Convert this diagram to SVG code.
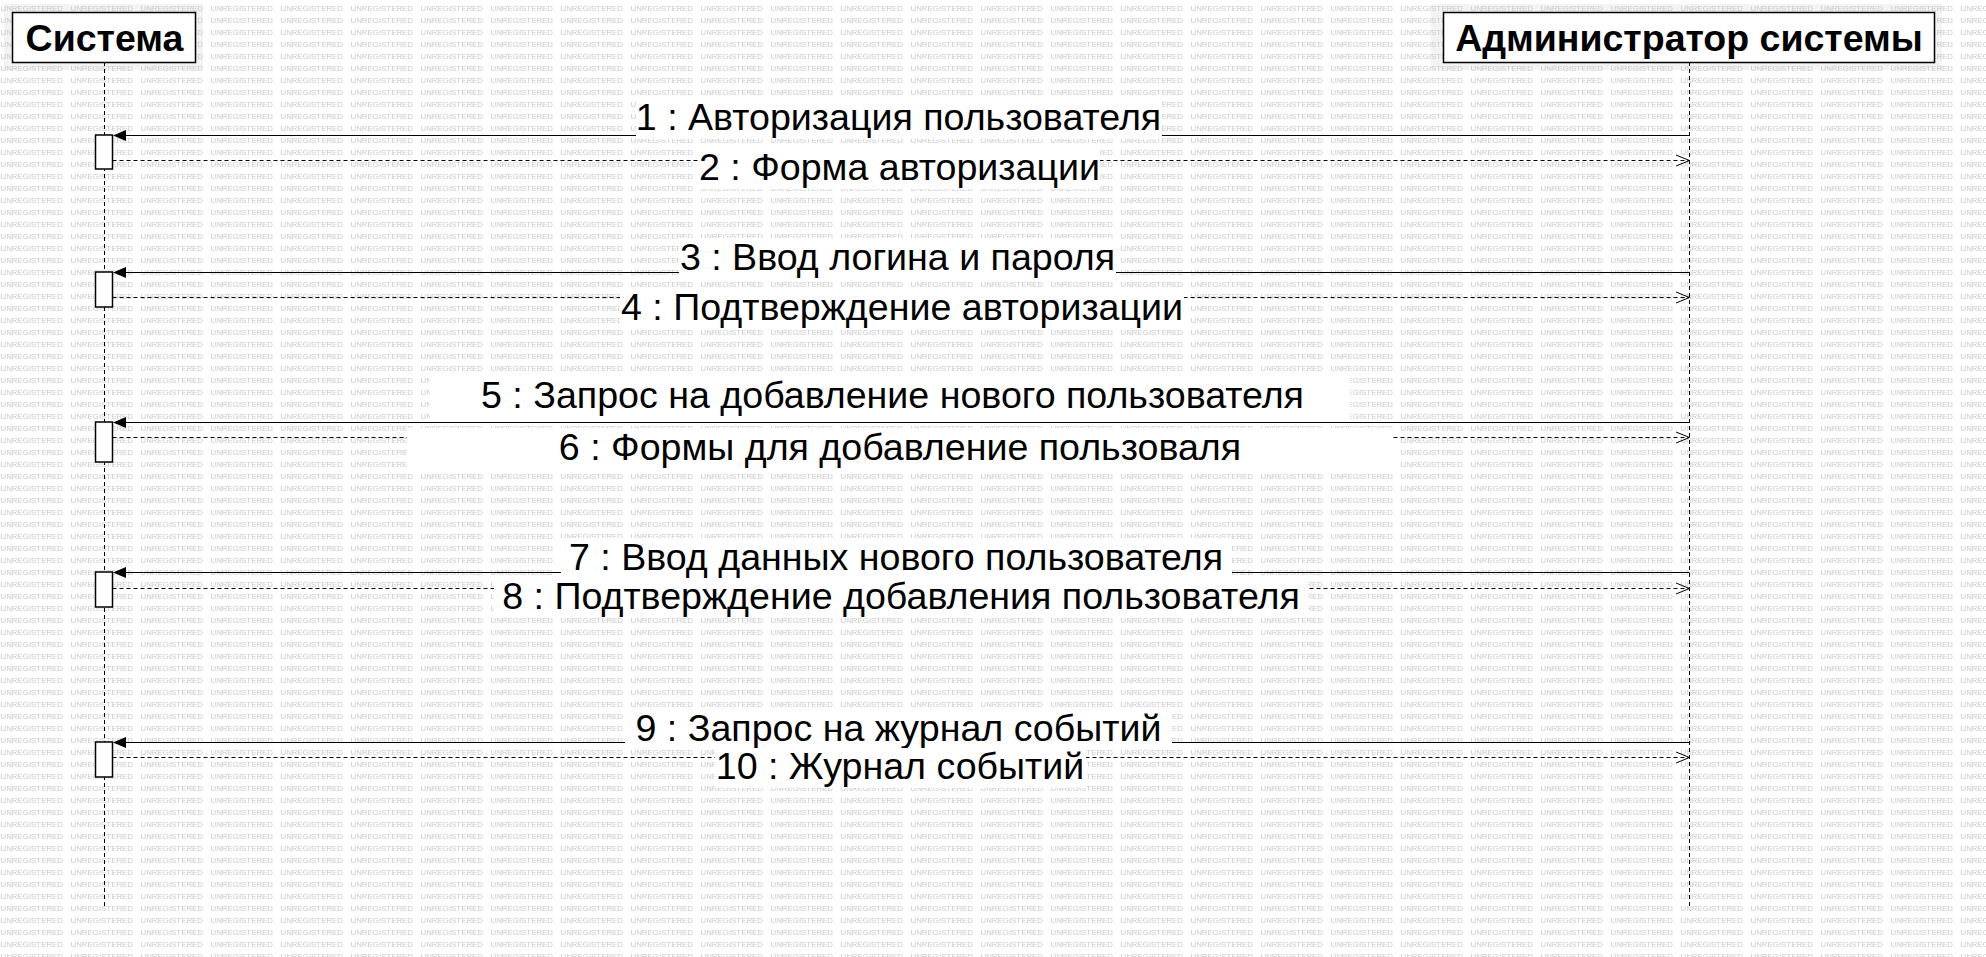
<svg xmlns="http://www.w3.org/2000/svg" width="1986" height="957" viewBox="0 0 1986 957">
<style>
.wm{font-family:"Liberation Sans",Arial,sans-serif;font-size:7.6px;fill:#c9c9c9;}
.hdr{fill:#fff;stroke:#000;stroke-width:1.5;}
.hdrtxt{font-family:"Liberation Sans",Arial,sans-serif;font-size:37.5px;font-weight:bold;fill:#000;text-anchor:middle;}
.life{stroke:#000;stroke-width:1;stroke-dasharray:4 3;fill:none;}
.act{fill:#fff;stroke:#000;stroke-width:1.5;}
.call{stroke:#000;stroke-width:1.2;fill:none;}
.ret{stroke:#000;stroke-width:1;stroke-dasharray:4 3;fill:none;}
.head{fill:#000;stroke:none;}
.open{fill:none;stroke:#000;stroke-width:1;}
.lbg{fill:#fff;}
.lbl{font-family:"Liberation Sans",Arial,sans-serif;font-size:37.6px;fill:#000;text-anchor:middle;}
</style>
<defs>
<pattern id="wmp" x="0" y="0" width="70" height="12" patternUnits="userSpaceOnUse">
<text class="wm" x="0.5" y="11.3" textLength="62.5" lengthAdjust="spacingAndGlyphs">UNREGISTERED</text>
</pattern>
</defs>
<rect x="0" y="0" width="1986" height="957" fill="#fff"/>
<rect x="4" y="4" width="199" height="66" fill="#f3f3f3"/>
<rect x="1431" y="4" width="511" height="66" fill="#f3f3f3"/>
<rect x="0" y="0" width="1986" height="957" fill="url(#wmp)"/>

<g id="node-sistema">
<line class="life" x1="104.5" y1="62" x2="104.5" y2="907"/>
<rect class="hdr" x="12.5" y="12.5" width="183" height="50"/>
<text class="hdrtxt" x="104.5" y="51">Система</text>
</g>
<g id="node-admin">
<line class="life" x1="1689.5" y1="62" x2="1689.5" y2="907"/>
<rect class="hdr" x="1443.5" y="12.5" width="491" height="50"/>
<text class="hdrtxt" x="1689" y="51">Администратор системы</text>
</g>

<g id="activations">
<rect class="act" x="95.5" y="135" width="17" height="34"/>
<rect class="act" x="95.5" y="272" width="17" height="35"/>
<rect class="act" x="95.5" y="422" width="17" height="40"/>
<rect class="act" x="95.5" y="572" width="17" height="35"/>
<rect class="act" x="95.5" y="742" width="17" height="35"/>
</g>

<g id="connectors">
<g id="m1">
<line class="call" x1="1689.5" y1="135.5" x2="125" y2="135.5"/>
<polygon class="head" points="113,135.5 126,130 126,141"/>
<rect class="lbg" x="636" y="98" width="526" height="41"/>
<text class="lbl" x="898.5" y="130">1 : Авторизация пользователя</text>
</g>
<g id="m2">
<line class="ret" x1="112.5" y1="160.5" x2="1689" y2="160.5"/>
<polyline class="open" points="1676,155 1689.5,160.5 1676,166"/>
<rect class="lbg" x="699" y="148" width="401" height="41"/>
<text class="lbl" x="899.5" y="180">2 : Форма авторизации</text>
</g>
<g id="m3">
<line class="call" x1="1689.5" y1="272.5" x2="125" y2="272.5"/>
<polygon class="head" points="113,272.5 126,267 126,278"/>
<rect class="lbg" x="679" y="238" width="437" height="41"/>
<text class="lbl" x="897.5" y="270">3 : Ввод логина и пароля</text>
</g>
<g id="m4">
<line class="ret" x1="112.5" y1="297.5" x2="1689" y2="297.5"/>
<polyline class="open" points="1676,292 1689.5,297.5 1676,303"/>
<rect class="lbg" x="620" y="288" width="564" height="41"/>
<text class="lbl" x="902" y="320">4 : Подтверждение авторизации</text>
</g>
<g id="m5">
<line class="call" x1="1689.5" y1="422.5" x2="125" y2="422.5"/>
<polygon class="head" points="113,422.5 126,417 126,428"/>
<rect class="lbg" x="430" y="376" width="920" height="43"/>
<text class="lbl" x="892.5" y="408">5 : Запрос на добавление нового пользователя</text>
</g>
<g id="m6">
<line class="ret" x1="112.5" y1="437.5" x2="1689" y2="437.5"/>
<polyline class="open" points="1676,432 1689.5,437.5 1676,443"/>
<rect class="lbg" x="407" y="428" width="986" height="42"/>
<text class="lbl" x="900" y="460">6 : Формы для добавление пользоваля</text>
</g>
<g id="m7">
<line class="call" x1="1689.5" y1="572.5" x2="125" y2="572.5"/>
<polygon class="head" points="113,572.5 126,567 126,578"/>
<rect class="lbg" x="561" y="538" width="671" height="42"/>
<text class="lbl" x="896" y="570">7 : Ввод данных нового пользователя</text>
</g>
<g id="m8">
<line class="ret" x1="112.5" y1="588.5" x2="1689" y2="588.5"/>
<polyline class="open" points="1676,583 1689.5,588.5 1676,594"/>
<rect class="lbg" x="494" y="580" width="814" height="38"/>
<text class="lbl" x="901" y="609">8 : Подтверждение добавления пользователя</text>
</g>
<g id="m9">
<line class="call" x1="1689.5" y1="742.5" x2="125" y2="742.5"/>
<polygon class="head" points="113,742.5 126,737 126,748"/>
<rect class="lbg" x="625" y="708" width="547" height="42"/>
<text class="lbl" x="898.5" y="741">9 : Запрос на журнал событий</text>
</g>
<g id="m10">
<line class="ret" x1="112.5" y1="757.5" x2="1689" y2="757.5"/>
<polyline class="open" points="1676,752 1689.5,757.5 1676,763"/>
<rect class="lbg" x="715" y="748" width="371" height="40"/>
<text class="lbl" x="900" y="779">10 : Журнал событий</text>
</g>
</g>
</svg>
